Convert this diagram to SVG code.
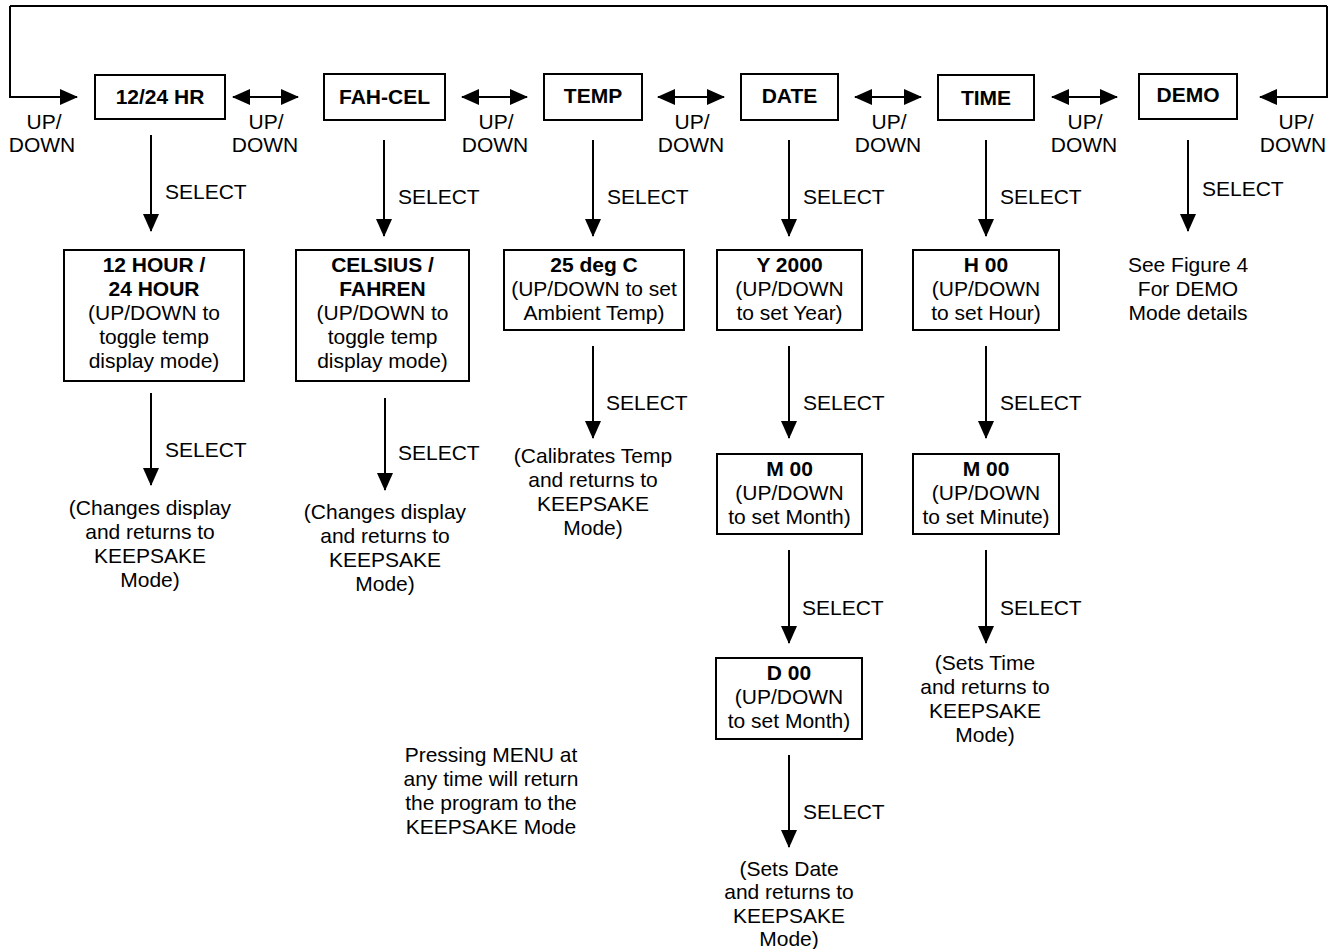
<svg xmlns="http://www.w3.org/2000/svg" width="1335" height="949" viewBox="0 0 1335 949">
<style>
.bx{fill:#fff;stroke:#000;stroke-width:2}
.ln{fill:none;stroke:#000;stroke-width:2}
.ar{marker-end:url(#ah)}
.da{marker-start:url(#ah);marker-end:url(#ah)}
text{font-family:"Liberation Sans",Arial,sans-serif;font-size:21px;text-anchor:middle;fill:#000}
.b{font-weight:bold}
.l{text-anchor:start}
</style>
<defs>
<marker id="ah" markerUnits="userSpaceOnUse" markerWidth="18" markerHeight="16" refX="17" refY="8" orient="auto-start-reverse" viewBox="0 0 18 16">
<path d="M0,0 L18,8 L0,16 z" fill="#000"/>
</marker>
</defs>
<rect width="1335" height="949" fill="#fff"/>
<g id="connectors">
<polyline class="ln ar" points="10,6 10,97 77,97"/>
<line class="ln" x1="10" y1="6" x2="1327" y2="6"/>
<polyline class="ln ar" points="1327,6 1327,97 1260,97"/>
<line class="ln da" x1="233" y1="97" x2="298" y2="97"/>
<line class="ln da" x1="462" y1="97" x2="527" y2="97"/>
<line class="ln da" x1="658" y1="97" x2="724" y2="97"/>
<line class="ln da" x1="855" y1="97" x2="921" y2="97"/>
<line class="ln da" x1="1052" y1="97" x2="1117" y2="97"/>
<line class="ln ar" x1="151" y1="135" x2="151" y2="231"/>
<line class="ln ar" x1="384" y1="140" x2="384" y2="236"/>
<line class="ln ar" x1="593" y1="140" x2="593" y2="236"/>
<line class="ln ar" x1="789" y1="140" x2="789" y2="236"/>
<line class="ln ar" x1="986" y1="140" x2="986" y2="236"/>
<line class="ln ar" x1="1188" y1="140" x2="1188" y2="231"/>
<line class="ln ar" x1="151" y1="393" x2="151" y2="485"/>
<line class="ln ar" x1="385" y1="398" x2="385" y2="490"/>
<line class="ln ar" x1="593" y1="346" x2="593" y2="438"/>
<line class="ln ar" x1="789" y1="346" x2="789" y2="438"/>
<line class="ln ar" x1="986" y1="346" x2="986" y2="438"/>
<line class="ln ar" x1="789" y1="550" x2="789" y2="643"/>
<line class="ln ar" x1="986" y1="550" x2="986" y2="643"/>
<line class="ln ar" x1="789" y1="755" x2="789" y2="847"/>
</g>
<g id="connector-labels">
<text x="44" y="129">UP/</text><text x="42" y="152">DOWN</text>
<text x="266" y="129">UP/</text><text x="265" y="152">DOWN</text>
<text x="496" y="129">UP/</text><text x="495" y="152">DOWN</text>
<text x="692" y="129">UP/</text><text x="691" y="152">DOWN</text>
<text x="889" y="129">UP/</text><text x="888" y="152">DOWN</text>
<text x="1085" y="129">UP/</text><text x="1084" y="152">DOWN</text>
<text x="1296" y="129">UP/</text><text x="1293" y="152">DOWN</text>
<text class="l" x="165" y="199">SELECT</text>
<text class="l" x="398" y="204">SELECT</text>
<text class="l" x="607" y="204">SELECT</text>
<text class="l" x="803" y="204">SELECT</text>
<text class="l" x="1000" y="204">SELECT</text>
<text class="l" x="1202" y="196">SELECT</text>
<text class="l" x="165" y="457">SELECT</text>
<text class="l" x="398" y="460">SELECT</text>
<text class="l" x="606" y="410">SELECT</text>
<text class="l" x="803" y="410">SELECT</text>
<text class="l" x="1000" y="410">SELECT</text>
<text class="l" x="802" y="615">SELECT</text>
<text class="l" x="1000" y="615">SELECT</text>
<text class="l" x="803" y="819">SELECT</text>
</g>
<g id="n-1224hr"><rect class="bx" x="95" y="75" width="130" height="44"/><text class="b" x="160" y="104">12/24 HR</text></g>
<g id="n-fahcel"><rect class="bx" x="324" y="74" width="121" height="46"/><text class="b" x="384.5" y="104">FAH-CEL</text></g>
<g id="n-temp"><rect class="bx" x="544" y="74" width="98" height="46"/><text class="b" x="593" y="103">TEMP</text></g>
<g id="n-date"><rect class="bx" x="741" y="74" width="97" height="46"/><text class="b" x="789.5" y="103">DATE</text></g>
<g id="n-time"><rect class="bx" x="938" y="75" width="96" height="45"/><text class="b" x="986" y="105">TIME</text></g>
<g id="n-demo"><rect class="bx" x="1139" y="74" width="98" height="45"/><text class="b" x="1188" y="102">DEMO</text></g>
<g id="n-12hour"><rect class="bx" x="64" y="250" width="180" height="131"/>
<text class="b" x="154" y="272">12 HOUR /</text><text class="b" x="154" y="296">24 HOUR</text>
<text x="154" y="320">(UP/DOWN to</text><text x="154" y="344">toggle temp</text><text x="154" y="368">display mode)</text></g>
<g id="n-celsius"><rect class="bx" x="296" y="250" width="173" height="131"/>
<text class="b" x="382.5" y="272">CELSIUS /</text><text class="b" x="382.5" y="296">FAHREN</text>
<text x="382.5" y="320">(UP/DOWN to</text><text x="382.5" y="344">toggle temp</text><text x="382.5" y="368">display mode)</text></g>
<g id="n-25degc"><rect class="bx" x="504" y="250" width="180" height="80"/>
<text class="b" x="594" y="272">25 deg C</text><text x="594" y="296">(UP/DOWN to set</text><text x="594" y="320">Ambient Temp)</text></g>
<g id="n-y2000"><rect class="bx" x="717" y="250" width="145" height="80"/>
<text class="b" x="789.5" y="272">Y 2000</text><text x="789.5" y="296">(UP/DOWN</text><text x="789.5" y="320">to set Year)</text></g>
<g id="n-h00"><rect class="bx" x="913" y="250" width="146" height="80"/>
<text class="b" x="986" y="272">H 00</text><text x="986" y="296">(UP/DOWN</text><text x="986" y="320">to set Hour)</text></g>
<g id="n-demo-note"><text x="1188" y="272">See Figure 4</text><text x="1188" y="296">For DEMO</text><text x="1188" y="320">Mode details</text></g>
<g id="n-m00-date"><rect class="bx" x="717" y="454" width="145" height="80"/>
<text class="b" x="789.5" y="476">M 00</text><text x="789.5" y="500">(UP/DOWN</text><text x="789.5" y="524">to set Month)</text></g>
<g id="n-m00-time"><rect class="bx" x="913" y="454" width="146" height="80"/>
<text class="b" x="986" y="476">M 00</text><text x="986" y="500">(UP/DOWN</text><text x="986" y="524">to set Minute)</text></g>
<g id="n-d00"><rect class="bx" x="716" y="658" width="146" height="81"/>
<text class="b" x="789" y="680">D 00</text><text x="789" y="704">(UP/DOWN</text><text x="789" y="728">to set Month)</text></g>
<g id="n-changes1"><text x="150" y="515">(Changes display</text><text x="150" y="539">and returns to</text><text x="150" y="563">KEEPSAKE</text><text x="150" y="587">Mode)</text></g>
<g id="n-changes2"><text x="385" y="519">(Changes display</text><text x="385" y="543">and returns to</text><text x="385" y="567">KEEPSAKE</text><text x="385" y="591">Mode)</text></g>
<g id="n-calibrates"><text x="593" y="463">(Calibrates Temp</text><text x="593" y="487">and returns to</text><text x="593" y="511">KEEPSAKE</text><text x="593" y="535">Mode)</text></g>
<g id="n-setstime"><text x="985" y="670">(Sets Time</text><text x="985" y="694">and returns to</text><text x="985" y="718">KEEPSAKE</text><text x="985" y="742">Mode)</text></g>
<g id="n-setsdate"><text x="789" y="876">(Sets Date</text><text x="789" y="899">and returns to</text><text x="789" y="923">KEEPSAKE</text><text x="789" y="946">Mode)</text></g>
<g id="n-menu-note"><text x="491" y="762">Pressing MENU at</text><text x="491" y="786">any time will return</text><text x="491" y="810">the program to the</text><text x="491" y="834">KEEPSAKE Mode</text></g>
</svg>
